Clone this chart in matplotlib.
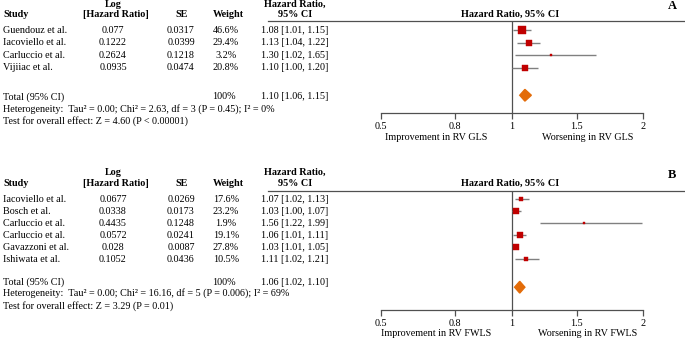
import numpy as np
import matplotlib
matplotlib.use("Agg")
import matplotlib.pyplot as plt
import matplotlib.transforms as mtransforms
from matplotlib.patches import Polygon

plt.rcParams['font.family'] = ['Liberation Serif', 'DejaVu Serif']

# ---------------- data ----------------
studies_a = ["Guendouz et al.", "Iacoviello et al.", "Carluccio et al.", "Vijiiac et al."]
loghr_a = ["0.077", "0.1222", "0.2624", "0.0935"]
se_a = ["0.0317", "0.0399", "0.1218", "0.0474"]
weight_a = [46.6, 29.4, 3.2, 20.8]
hr_a = [1.08, 1.13, 1.30, 1.10]
lo_a = [1.01, 1.04, 1.02, 1.00]
hi_a = [1.15, 1.22, 1.65, 1.20]
total_a = (1.10, 1.06, 1.15)
het_a = "Heterogeneity:  Tau\u00b2 = 0.00; Chi\u00b2 = 2.63, df = 3 (P = 0.45); I\u00b2 = 0%"
test_a = "Test for overall effect: Z = 4.60 (P < 0.00001)"
xlab_a = ("Improvement in RV GLS", "Worsening in RV GLS")

studies_b = ["Iacoviello et al.", "Bosch et al.", "Carluccio et al.", "Carluccio et al.",
             "Gavazzoni et al.", "Ishiwata et al."]
loghr_b = ["0.0677", "0.0338", "0.4435", "0.0572", "0.028", "0.1052"]
se_b = ["0.0269", "0.0173", "0.1248", "0.0241", "0.0087", "0.0436"]
weight_b = [17.6, 23.2, 1.9, 19.1, 27.8, 10.5]
hr_b = [1.07, 1.03, 1.56, 1.06, 1.03, 1.11]
lo_b = [1.02, 1.00, 1.22, 1.01, 1.01, 1.02]
hi_b = [1.13, 1.07, 1.99, 1.11, 1.05, 1.21]
total_b = (1.06, 1.02, 1.10)
het_b = "Heterogeneity:  Tau\u00b2 = 0.00; Chi\u00b2 = 16.16, df = 5 (P = 0.006); I\u00b2 = 69%"
test_b = "Test for overall effect: Z = 3.29 (P = 0.01)"
xlab_b = ("Improvement in RV FWLS", "Worsening in RV FWLS")

tick_vals = [0.5, 0.8, 1, 1.5, 2]
tick_labels = ["0.5", "0.8", "1", "1.5", "2"]

# ---------------- scale (non-uniform axis as in the reference) ----------------
knot_hr = np.array([0.3, 0.5, 0.8, 1.0, 1.5, 2.0, 2.5])
knot_px = np.array([332.0, 381.0, 454.5, 512.0, 576.5, 643.0, 709.5])

def fwd(x):
    return np.interp(x, knot_hr, knot_px)

def inv(p):
    return np.interp(p, knot_px, knot_hr)

W, H = 685, 339
fig = plt.figure(figsize=(W / 100, H / 100), dpi=100)
ax0 = fig.add_axes([0, 0, 1, 1])
ax0.set_xlim(0, W)
ax0.set_ylim(H, 0)
ax0.axis('off')

FS = 7.3
RED = '#c00000'
ORANGE = '#e36c09'
GRAY = '#808080'
DARK = '#505050'


def panel(letter, studies, loghr, se, weight, hr, lo, hi, total, het, test, xlab,
          y_line, y_axis, row0, step, total_row, diamond_row, het_row, test_row,
          hdr1, hdr2, letter_y, lab_off):
    ax = fig.add_axes([340 / W, 1 - y_axis / H, 345 / W, (y_axis - y_line) / H])
    ax.set_xscale('function', functions=(fwd, inv))
    ax.set_xlim(inv(340), inv(685))
    ytop = -(row0 - y_line) / step
    ybot = (y_axis - row0) / step
    ax.set_ylim(ybot, ytop)
    for s in ['top', 'right', 'left']:
        ax.spines[s].set_visible(False)
    ax.spines['bottom'].set_bounds(tick_vals[0], tick_vals[-1])
    ax.spines['bottom'].set_color(DARK)
    ax.spines['bottom'].set_linewidth(0.9)
    ax.set_yticks([])
    ax.set_xticks(tick_vals)
    ax.set_xticklabels(tick_labels, fontsize=FS)
    ax.xaxis.set_minor_locator(matplotlib.ticker.NullLocator())
    ax.tick_params(axis='x', direction='out', length=4, width=0.9, color=DARK, pad=2.8)
    ax.patch.set_alpha(0)
    ax.axvline(1, color=DARK, lw=0.9)

    n = len(studies)
    rows = np.arange(n)
    ax.hlines(rows, lo, hi, color=GRAY, lw=1.0)
    for r, h, w in zip(rows, hr, weight):
        side_px = max(2.4, 1.15 * np.sqrt(w))
        ax.plot([h], [r], marker='s', ms=side_px * 0.72, color=RED, mec=RED, mew=0.3)
    est, tlo, thi = total
    dh = 0.47 * 12.5 / step
    ax.add_patch(Polygon([[tlo, diamond_row], [est, diamond_row - dh], [thi, diamond_row],
                          [est, diamond_row + dh]], closed=True, color=ORANGE))

    tr = mtransforms.blended_transform_factory(ax0.transData, ax.transData)
    kw = dict(transform=tr, fontsize=FS, va='center', clip_on=False)
    ax0.text(3, hdr2, "Study", fontsize=FS, fontweight='bold', va='center')
    ax0.text(113, hdr1, "Log", fontsize=FS, fontweight='bold', va='center', ha='center')
    ax0.text(116, hdr2, "[Hazard Ratio]", fontsize=FS, fontweight='bold', va='center', ha='center')
    ax0.text(182, hdr2, "SE", fontsize=FS, fontweight='bold', va='center', ha='center')
    ax0.text(228, hdr2, "Weight", fontsize=FS, fontweight='bold', va='center', ha='center')
    ax0.text(295, hdr1, "Hazard Ratio,", fontsize=FS, fontweight='bold', va='center', ha='center')
    ax0.text(295, hdr2, "95% CI", fontsize=FS, fontweight='bold', va='center', ha='center')
    ax0.text(510, hdr2, "Hazard Ratio, 95% CI", fontsize=FS, fontweight='bold', va='center', ha='center')
    ax0.text(672, letter_y, letter, fontsize=9, fontweight='bold', va='center', ha='center')
    ax0.plot([268, 685], [y_line, y_line], color=DARK, lw=0.9)

    for r, s, l, e, w, h, a, b in zip(rows, studies, loghr, se, weight, hr, lo, hi):
        ax.text(3, r, s, ha='left', **kw)
        ax.text(113, r, l, ha='center', **kw)
        ax.text(181, r, e, ha='center', **kw)
        ax.text(226, r, f"{w:.1f}%", ha='center', **kw)
        ax.text(295, r, f"{h:.2f} [{a:.2f}, {b:.2f}]", ha='center', **kw)
    ax.text(3, total_row, "Total (95% CI)", ha='left', **kw)
    ax.text(224, total_row, "100%", ha='center', **kw)
    ax.text(295, total_row, f"{est:.2f} [{tlo:.2f}, {thi:.2f}]", ha='center', **kw)
    ax.text(3, het_row, het, ha='left', **kw)
    ax.text(3, test_row, test, ha='left', **kw)

    ax0.text(436, y_axis + lab_off, xlab[0], fontsize=FS, ha='center', va='center')
    ax0.text(588, y_axis + lab_off, xlab[1], fontsize=FS, ha='center', va='center')
    return ax


panel("A", studies_a, loghr_a, se_a, weight_a, hr_a, lo_a, hi_a, total_a, het_a, test_a, xlab_a,
      y_line=21, y_axis=113, row0=30.5, step=12.5, total_row=5.3, diamond_row=5.18,
      het_row=6.28, test_row=7.28, hdr1=4.5, hdr2=14.7, letter_y=6, lab_off=25)
panel("B", studies_b, loghr_b, se_b, weight_b, hr_b, lo_b, hi_b, total_b, het_b, test_b, xlab_b,
      y_line=190.7, y_axis=310, row0=199, step=12, total_row=6.97, diamond_row=7.35,
      het_row=7.86, test_row=8.9, hdr1=172.5, hdr2=183, letter_y=175, lab_off=23.5)

fig.savefig("out.png", dpi=100)
